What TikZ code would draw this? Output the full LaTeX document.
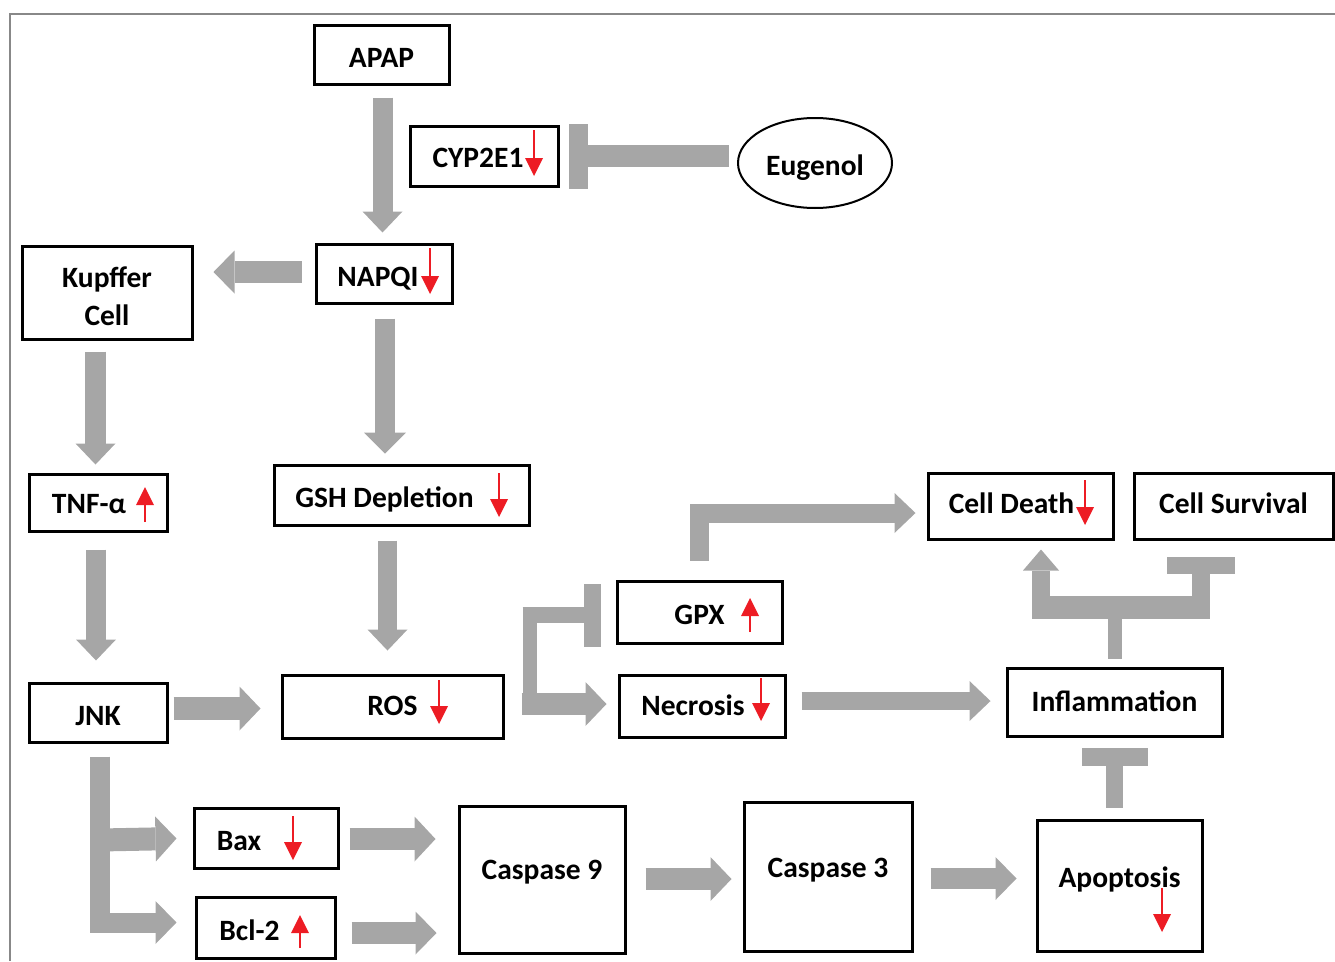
\documentclass[tikz,border=0pt]{standalone}
\usepackage{fontspec}
\setmainfont{Carlito}
\usetikzlibrary{arrows.meta,calc,shapes.geometric}
\definecolor{agray}{RGB}{166,166,166}
\definecolor{ared}{RGB}{237,28,36}
\definecolor{fgray}{RGB}{136,136,136}
\newcommand{\up}[2]{\raisebox{#1}[\height][\depth]{#2}}
\tikzset{
  lbl/.style={font=\fontsize{29.5}{38}\selectfont\bfseries},
  box/.style 2 args={draw=black, line width=3pt, inner sep=0pt, lbl,
    minimum width=#1, minimum height=#2, text height=27pt, text depth=2pt},
  garr/.style 2 args={draw=agray, line width=#1,
    -{Triangle[width=#2,length=21pt,line width=0pt]}},
  gbar/.style n args={3}{draw=agray, line width=#1,
    -{Rectangle[width=#2,length=#3,line width=0pt]}},
  gline/.style={draw=agray, line width=#1},
  rarr/.style={draw=ared, line width=1.6pt,
    -{Triangle[width=18pt,length=18pt,line width=0pt]}},
}
\begin{document}
\begin{tikzpicture}[x=1pt,y=-1pt]
\useasboundingbox (0,0) rectangle (1335,961);
\draw[fgray, line width=2pt] (10,961) -- (10,14) -- (1335,14);

% nodes
\node[box={135pt}{59pt}] (apap) at (381.5,54.5) {APAP};
\node[box={148pt}{60pt}] (cyp) at (484,156) {\up{1pt}{CYP2E1}\kern12pt};
\node[draw=black, line width=2pt, ellipse, inner sep=0pt, lbl, text height=27pt, text depth=2pt,
      minimum width=154pt, minimum height=90pt] (eug) at (815,163) {Eugenol};
\node[box={136pt}{59pt}] (napqi) at (384,273.5) {NAPQI\kern12pt};
\node[box={170pt}{93pt}, align=center, text height=, text depth=] (kup) at (107,292.5) {\rule{0pt}{28pt}Kupffer\\Cell};
\node[box={138pt}{57pt}] (tnf) at (98,502.5) {\up{2pt}{TNF-α}\kern18pt};
\node[box={255pt}{60pt}] (gsh) at (401.5,495) {GSH Depletion\kern34pt};
\node[box={138pt}{59pt}] (jnk) at (98,712.5) {JNK};
\node[box={221pt}{63pt}] (ros) at (392.5,706.5) {\up{4pt}{ROS}};
\node[box={165pt}{62pt}] (gpx) at (699.5,612) {GPX};
\node[box={166pt}{62pt}] (nec) at (702,706) {\up{3pt}{Necrosis}\kern18pt};
\node[box={185pt}{66pt}] (cdeath) at (1020.5,506) {\up{5pt}{Cell Death}\kern18pt};
\node[box={199pt}{66pt}] (csurv) at (1233.5,506) {\up{5pt}{Cell Survival}};
\node[box={215pt}{68pt}] (infl) at (1114.5,702) {\up{3pt}{Inflammation}};
\node[box={144pt}{60pt}] (bax) at (266,838) {Bax\kern54pt};
\node[box={139pt}{61pt}] (bcl) at (265.5,927.5) {Bcl-2\kern32pt};
\node[box={166pt}{147pt}] (c9) at (542,879.5) {\up{12.5pt}{Caspase 9}};
\node[box={168pt}{149pt}] (c3) at (828,876.5) {\up{11.5pt}{Caspase 3}};
\node[box={165pt}{131pt}] (apo) at (1119.5,885.5) {\up{10.5pt}{Apoptosis}};

% gray connectors
\draw[garr={20pt}{40pt}] ($(apap.south)+(1,12)$) -- ($(napqi.north)+(-1.5,-10)$);
\draw[garr={22pt}{43pt}] ($(napqi.west)+(-13,-1.5)$) -- ($(kup.east)+(20,-20.5)$);
\draw[gbar={22pt}{65pt}{19pt}] ($(eug.west)+(-8,-7)$) -- ($(cyp.east)+(9,0)$);
\draw[garr={20pt}{42pt}] ($(napqi.south)+(1,14)$) -- ($(gsh.north)+(-16.5,-10)$);
\draw[garr={21pt}{40pt}] ($(kup.south)+(-11.5,11)$) -- ($(tnf.north)+(-2.5,-8)$);
\draw[garr={20pt}{40pt}] ($(tnf.south)+(-2,17)$) -- ($(jnk.north)+(-2,-21)$);
\draw[garr={19pt}{40pt}] ($(gsh.south)+(-14,14)$) -- ($(ros.north)+(-5,-23)$);
\draw[garr={23pt}{44pt}] ($(jnk.east)+(5,-4)$) -- ($(ros.west)+(-20,2)$);

% ROS branch
\draw[gline=14pt] ($(ros.east)+(25,8.5)$) -- ($(ros.east)+(25,-99.5)$);
\draw[gbar={16pt}{63pt}{17pt}] ($(ros.east)+(18,-91.5)$) -- ($(gpx.west)+(-15,3)$);
\draw[garr={22pt}{44pt}] ($(ros.east)+(17,-2.5)$) -- ($(nec.west)+(-11,-2)$);

% GPX -> Cell Death
\draw[garr={19pt}{40pt}, line join=miter] ($(gpx.north)+(0,-19)$) |- ($(cdeath.west)+(-11,7)$);

% Necrosis -> Inflammation
\draw[garr={18pt}{40pt}] ($(nec.east)+(15,-5)$) -- ($(infl.west)+(-15,-1)$);

% Inflammation branch
\draw[gline=14pt] ($(infl.north)+(0,-8)$) -- ($(infl.north)+(0,-50)$);
\draw[gline=23pt] ($(infl.north)+(-82.5,-59.5)$) -- ($(infl.north)+(95.5,-59.5)$);
\draw[garr={18pt}{36pt}] ($(infl.north)+(-73.5,-48)$) -- ($(cdeath.south)+(20.5,9)$);
\draw[gbar={18pt}{68pt}{17pt}] ($(infl.north)+(86.5,-48)$) -- ($(csurv.south)+(-32.5,16)$);

% Apoptosis -| Inflammation
\draw[gbar={17pt}{66pt}{18pt}] ($(apo.north)+(-5,-11)$) -- ($(infl.south)+(0,10)$);

% JNK branch
\draw[garr={20pt}{43pt}, line join=miter] ($(jnk.south)+(2,13)$) |- ($(bcl.west)+(-18,-5)$);
\draw[garr={23pt}{45pt}] ($(jnk.south)+(2,96.5)$) -- ($(bax.west)+(-16,0.5)$);

% to caspases / apoptosis
\draw[garr={22pt}{45pt}] ($(bax.east)+(10,1)$) -- ($(c9.west)+(-22,-40.5)$);
\draw[garr={22pt}{43pt}] ($(bcl.east)+(15,5.5)$) -- ($(c9.west)+(-21,53.5)$);
\draw[garr={22pt}{44pt}] ($(c9.east)+(19,-0.5)$) -- ($(c3.west)+(-11,2.5)$);
\draw[garr={21pt}{43pt}] ($(c3.east)+(17,2)$) -- ($(apo.west)+(-19,-7)$);

% red indicator arrows
\draw[rarr] ($(cyp.center)+(50,-26)$) -- ($(cyp.center)+(50,20)$);
\draw[rarr] ($(napqi.center)+(46,-25.5)$) -- ($(napqi.center)+(46,20.5)$);
\draw[rarr] ($(tnf.center)+(47,19.5)$) -- ($(tnf.center)+(47,-15.5)$);
\draw[rarr] ($(gsh.center)+(97.5,-22)$) -- ($(gsh.center)+(97.5,22)$);
\draw[rarr] ($(ros.center)+(46.5,-26.5)$) -- ($(ros.center)+(46.5,17.5)$);
\draw[rarr] ($(gpx.center)+(50.5,20)$) -- ($(gpx.center)+(50.5,-14)$);
\draw[rarr] ($(nec.center)+(59,-28)$) -- ($(nec.center)+(59,15)$);
\draw[rarr] ($(cdeath.center)+(64.5,-26)$) -- ($(cdeath.center)+(64.5,19)$);
\draw[rarr] ($(bax.center)+(27,-22)$) -- ($(bax.center)+(27,22)$);
\draw[rarr] ($(bcl.center)+(34.5,20.5)$) -- ($(bcl.center)+(34.5,-12.5)$);
\draw[rarr] ($(apo.center)+(42.5,2.5)$) -- ($(apo.center)+(42.5,46.5)$);
\end{tikzpicture}
\end{document}
